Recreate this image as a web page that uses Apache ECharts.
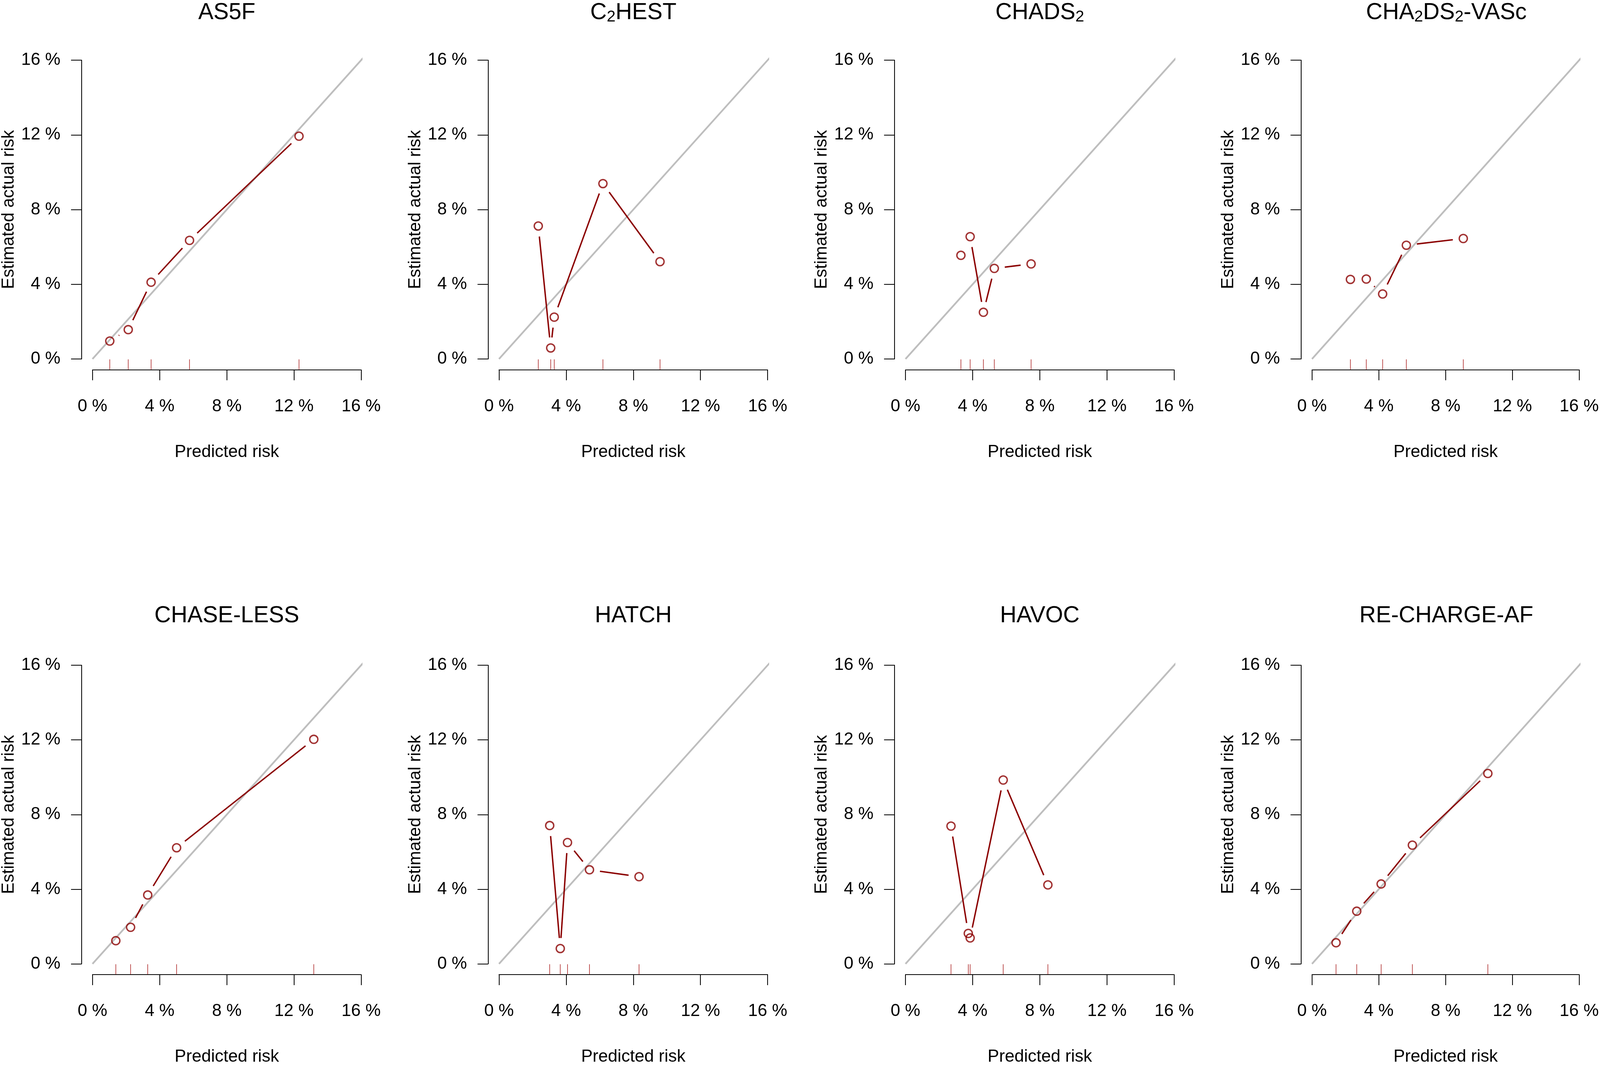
<!DOCTYPE html>
<html>
<head>
<meta charset="utf-8">
<title>Calibration plots</title>
<script src="https://cdn.jsdelivr.net/npm/echarts@6/dist/echarts.min.js"></script>
<style>
  html, body { margin: 0; padding: 0; background: #fff; width: 100%; height: 100%; overflow: hidden; }
  #chart { width: 100vw; height: 100vh; }
</style>
</head>
<body>
<div id="chart"></div>
<script>
// predicted risk (x) and estimated actual risk (y), in %, one pair per score
const as5fPred = [1.03, 2.13, 3.49, 5.78, 12.30];
const as5fObs = [0.96, 1.57, 4.11, 6.35, 11.93];

const c2hestPred = [2.34, 3.08, 3.29, 6.19, 9.59];
const c2hestObs = [7.12, 0.59, 2.24, 9.39, 5.21];

const chads2Pred = [3.30, 3.85, 4.64, 5.29, 7.48];
const chads2Obs = [5.55, 6.55, 2.50, 4.85, 5.09];

const chaVascPred = [2.30, 3.25, 4.23, 5.65, 9.06];
const chaVascObs = [4.26, 4.28, 3.48, 6.09, 6.45];

const chaseLessPred = [1.39, 2.27, 3.29, 5.01, 13.18];
const chaseLessObs = [1.24, 1.96, 3.69, 6.22, 12.03];

const hatchPred = [3.02, 3.65, 4.08, 5.39, 8.34];
const hatchObs = [7.41, 0.82, 6.50, 5.04, 4.67];

const havocPred = [2.71, 3.74, 3.85, 5.82, 8.48];
const havocObs = [7.38, 1.63, 1.39, 9.85, 4.23];

const rechargePred = [1.44, 2.68, 4.14, 6.01, 10.53];
const rechargeObs = [1.13, 2.82, 4.28, 6.36, 10.20];

// titles ({s|..} = subscript)
const titles = ['AS5F', 'C{s|2}HEST', 'CHADS{s|2}', 'CHA{s|2}DS{s|2}-VASc',
                'CHASE-LESS', 'HATCH', 'HAVOC', 'RE-CHARGE-AF'];

// axis range and ticks (percent)
const axisMin = 0;
const axisMax = 16;
const tickStep = 4;
// reference diagonal and rug extent (data units)
const diagonal = [[0, 0], [16.64, 16.64]];
const rugBand = [-0.56, -0.02];

const panels = [
  [as5fPred, as5fObs], [c2hestPred, c2hestObs], [chads2Pred, chads2Obs], [chaVascPred, chaVascObs],
  [chaseLessPred, chaseLessObs], [hatchPred, hatchObs], [havocPred, havocObs], [rechargePred, rechargeObs]
];

const RED = '#8B0000';
const GREY = '#BEBEBE';
const FONT = 'Liberation Sans, Arial, sans-serif';

const dom = document.getElementById('chart');
const chart = echarts.init(dom);

// layout was measured on a 4550 x 2729 canvas; scale to the real size
const sx = chart.getWidth() / 4550;
const sy = chart.getHeight() / 2729;
const s = Math.min(sx, sy);
const GAP = 30 * s; // gap round each point, like R's type = "b"

const grids = [], xAxes = [], yAxes = [], series = [], titleList = [];

panels.forEach(([pred, obs], k) => {
  const col = k % 4, row = Math.floor(k / 4);
  const left = (263 + 1156 * col) * sx;
  const top = (154 + 1549 * row) * sy;

  grids.push({ left: left, top: top, width: 764 * sx, height: 765 * sy, containLabel: false });

  titleList.push({
    text: titles[k],
    left: left + 382 * sx,
    top: (1544 * row) * sy,
    textAlign: 'center',
    padding: 0,
    textStyle: {
      fontFamily: FONT, fontSize: 65 * s, fontWeight: 'normal', color: '#000',
      lineHeight: 72 * s,
      rich: { s: { fontFamily: FONT, fontSize: 45 * s, lineHeight: 54 * s, verticalAlign: 'bottom', color: '#000' } }
    }
  });

  const axisCommon = {
    type: 'value',
    gridIndex: k,
    min: axisMin,
    max: axisMax,
    interval: tickStep,
    nameLocation: 'middle',
    nameTextStyle: { fontFamily: FONT, fontSize: 49 * s, color: '#000' },
    axisLine: { show: true, onZero: false, lineStyle: { color: '#000', width: 2.3 * s } },
    axisTick: { show: true, inside: false, length: 30 * s, lineStyle: { color: '#000', width: 2.3 * s } },
    splitLine: { show: false },
    axisLabel: {
      fontFamily: FONT, fontSize: 49 * s, color: '#000',
      formatter: v => v + ' %', hideOverlap: false
    }
  };

  xAxes.push(Object.assign({}, axisCommon, {
    position: 'bottom', offset: 27.5 * sy,
    name: 'Predicted risk', nameGap: 189 * sy,
    axisLabel: Object.assign({}, axisCommon.axisLabel, { margin: 72 * sy })
  }));
  yAxes.push(Object.assign({}, axisCommon, {
    position: 'left', offset: 31 * sx,
    name: 'Estimated actual risk', nameGap: 182 * sx,
    axisLabel: Object.assign({}, axisCommon.axisLabel, { margin: 60 * sx })
  }));

  // grey identity line
  series.push({
    type: 'line', xAxisIndex: k, yAxisIndex: k,
    data: diagonal, symbol: 'none', clip: false, silent: true, z: 1,
    lineStyle: { color: GREY, width: 5 * s }
  });

  // red connecting segments, with gaps at the points
  const segs = pred.slice(0, -1).map((v, i) => [v, obs[i], pred[i + 1], obs[i + 1]]);
  series.push({
    type: 'custom', xAxisIndex: k, yAxisIndex: k, silent: true, z: 3,
    data: segs,
    encode: { x: [0, 2], y: [1, 3] },
    renderItem: (params, api) => {
      const a = api.coord([api.value(0), api.value(1)]);
      const b = api.coord([api.value(2), api.value(3)]);
      const dx = b[0] - a[0], dy = b[1] - a[1];
      const len = Math.hypot(dx, dy);
      if (len <= 2 * GAP) return { type: 'group', children: [] };
      const ux = dx / len, uy = dy / len;
      return {
        type: 'line',
        shape: { x1: a[0] + ux * GAP, y1: a[1] + uy * GAP, x2: b[0] - ux * GAP, y2: b[1] - uy * GAP },
        style: { stroke: RED, lineWidth: 4 * s }
      };
    }
  });

  // rug of predicted values
  series.push({
    type: 'custom', xAxisIndex: k, yAxisIndex: k, silent: true, z: 2,
    data: pred.map(v => [v, 0]),
    encode: { x: 0, y: 1 },
    renderItem: (params, api) => {
      const p1 = api.coord([api.value(0), rugBand[1]]);
      const p0 = api.coord([api.value(0), rugBand[0]]);
      return {
        type: 'line',
        shape: { x1: p1[0], y1: p1[1], x2: p0[0], y2: p0[1] },
        style: { stroke: '#B03030', lineWidth: 1.8 * s }
      };
    }
  });

  // hollow points
  series.push({
    type: 'scatter', xAxisIndex: k, yAxisIndex: k, z: 4, silent: true,
    data: pred.map((v, i) => [v, obs[i]]),
    symbol: 'circle', symbolSize: 23 * s,
    itemStyle: { color: 'rgba(0,0,0,0)', borderColor: RED, borderWidth: 4 * s }
  });
});

chart.setOption({
  animation: false,
  backgroundColor: '#fff',
  title: titleList,
  grid: grids,
  xAxis: xAxes,
  yAxis: yAxes,
  series: series
});
</script>
</body>
</html>
